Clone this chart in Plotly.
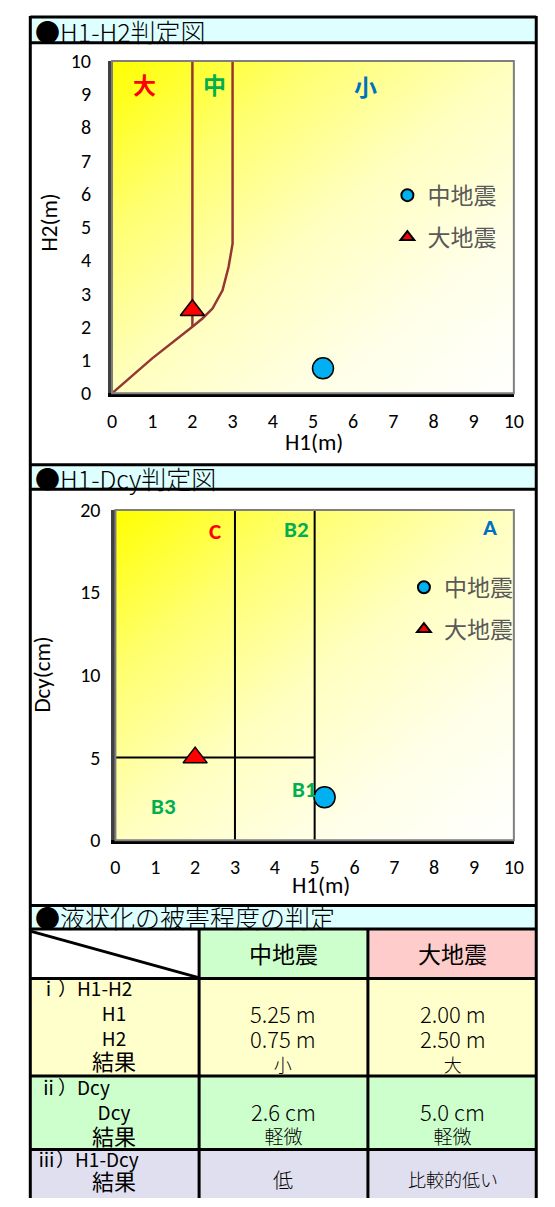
import plotly.graph_objects as go

# --- data ---
quake_names = ["中地震", "大地震"]
h1_vals = [5.25, 2.00]
h2_vals = [0.75, 2.50]
dcy_vals = [2.6, 5.0]
h1h2_results = ["小", "大"]
dcy_results = ["軽微", "軽微"]
h1dcy_results = ["低", "比較的低い"]

# H1-H2 boundary lines
bound_a_x = [2, 2]
bound_a_y = [10, 2]
bound_b_x = [0, 1, 2, 2.25, 2.5, 2.75, 2.9, 3, 3]
bound_b_y = [0, 1.05, 2, 2.25, 2.55, 3.1, 3.8, 4.5, 10]

# H1-Dcy boundary lines
grid_x = [3, 3, None, 5, 5, None, 0, 5]
grid_y = [0, 20, None, 0, 20, None, 5, 5]

W, H = 555, 1207
CJK = "Noto Sans CJK JP"
NUM = "Carlito, Lato, sans-serif"


def fx(px):
    return px / W


def fy(py):
    return 1 - py / H


fig = go.Figure()

# gradient backgrounds (yellow top-left -> white bottom-right)
grad = [[0, "#FFFF00"], [0.25, "#FFFF70"], [0.5, "#FFFFC0"], [0.75, "#FFFFE8"], [1, "#FFFFFF"]]
for xa, ya, ymax in [("x", "y", 10), ("x2", "y2", 20)]:
    fig.add_trace(go.Heatmap(
        x=[0, 10], y=[0, ymax], z=[[0.5, 1.0], [0.0, 0.5]],
        zmin=0, zmax=1, colorscale=grad, zsmooth="best",
        showscale=False, hoverinfo="skip", xaxis=xa, yaxis=ya))

# chart 1 lines
for bx, by in [(bound_a_x, bound_a_y), (bound_b_x, bound_b_y)]:
    fig.add_trace(go.Scatter(x=bx, y=by, mode="lines", line=dict(color="#953735", width=2.5),
                             showlegend=False, hoverinfo="skip", xaxis="x", yaxis="y"))

# chart 2 lines
fig.add_trace(go.Scatter(x=grid_x, y=grid_y, mode="lines", line=dict(color="black", width=2),
                         showlegend=False, hoverinfo="skip", xaxis="x2", yaxis="y2"))

symbols = ["circle", "triangle-up"]
colors = ["#00B0F0", "#FF0000"]
for i in range(2):
    fig.add_trace(go.Scatter(
        x=[h1_vals[i]], y=[h2_vals[i]], mode="markers", name=quake_names[i],
        marker=dict(symbol=symbols[i], size=21, color=colors[i], line=dict(color="black", width=1.5)),
        legend="legend", legendgroup="a%d" % i, xaxis="x", yaxis="y"))
    fig.add_trace(go.Scatter(
        x=[h1_vals[i]], y=[dcy_vals[i]], mode="markers", name=quake_names[i],
        marker=dict(symbol=symbols[i], size=21, color=colors[i], line=dict(color="black", width=1.5)),
        legend="legend2", legendgroup="b%d" % i, xaxis="x2", yaxis="y2"))

axis_common = dict(showgrid=False, zeroline=False, ticks="", showline=True,
                   tickfont=dict(family=NUM, size=20, color="black"), fixedrange=True)

fig.update_layout(
    width=W, height=H, margin=dict(l=0, r=0, t=0, b=0),
    paper_bgcolor="white", plot_bgcolor="white",
    xaxis=dict(domain=[fx(110), fx(523)], range=[0, 10], dtick=1, anchor="y",
               linecolor="black", linewidth=4, ticklabelstandoff=7, **axis_common),
    yaxis=dict(domain=[fy(389), fy(50)], range=[0, 10], dtick=1, anchor="x",
               linecolor="#404040", linewidth=4, ticklabelstandoff=13, **axis_common),
    xaxis2=dict(domain=[fx(113.5), fx(523)], range=[0, 10], dtick=1, anchor="y2",
                linecolor="black", linewidth=4, ticklabelstandoff=6, **axis_common),
    yaxis2=dict(domain=[fy(845), fy(508)], range=[0, 20], dtick=5, anchor="x2",
                linecolor="#404040", linewidth=4, ticklabelstandoff=7, **axis_common),
    legend=dict(x=fx(393), y=fy(165), xanchor="left", yanchor="top", bgcolor="rgba(0,0,0,0)",
                font=dict(family=CJK, size=23, color="#595959"), tracegroupgap=9,
                itemsizing="constant"),
    legend2=dict(x=fx(410), y=fy(565), xanchor="left", yanchor="top", bgcolor="rgba(0,0,0,0)",
                 font=dict(family=CJK, size=23, color="#595959"), tracegroupgap=9,
                 itemsizing="constant"),
)

shapes = []


def rect(x0, y0, x1, y1, fill, layer="below"):
    shapes.append(dict(type="rect", xref="paper", yref="paper", x0=fx(x0), x1=fx(x1),
                       y0=fy(y0), y1=fy(y1), fillcolor=fill, line=dict(width=0), layer=layer))


def line(x0, y0, x1, y1, w=3, color="black"):
    shapes.append(dict(type="line", xref="paper", yref="paper", x0=fx(x0), x1=fx(x1),
                       y0=fy(y0), y1=fy(y1), line=dict(color=color, width=w), layer="above"))


# header bands
rect(26, 6, 546, 31, "#DDFFFF")
rect(26, 463, 546, 487, "#DDFFFF")
rect(26, 912, 546, 935, "#DDFFFF")
# table fills
rect(199, 935, 373, 986, "#CCFFCC")
rect(373, 935, 546, 986, "#FFCCCC")
rect(26, 986, 546, 1086, "#FFFFCC")
rect(26, 1086, 546, 1161, "#CCFFCC")
rect(26, 1161, 546, 1210, "#E0DFEF")

# plot borders (top/right)
for xr, yr in [("x domain", "y domain"), ("x2 domain", "y2 domain")]:
    shapes.append(dict(type="rect", xref=xr, yref=yr, x0=0, x1=1, y0=0, y1=1,
                       line=dict(color="#7F7F7F", width=2), layer="above"))

# outer frame and table grid
line(26, 5, 546, 5)
line(26, 4, 26, 1210)
line(546, 4, 546, 1210)
for yy in [31.5, 462, 487, 911.5, 935.5, 986, 1085.5, 1160.5]:
    line(26, yy, 546, yy)
line(199.5, 935.5, 199.5, 1210)
line(373, 935.5, 373, 1210)
line(27, 938, 198, 985)

fig.update_layout(shapes=shapes)

ann = []


def text(px, py, s, size=20, anchor="center", color="black", family=CJK, angle=0, weight=300):
    ann.append(dict(x=fx(px), y=fy(py), xref="paper", yref="paper", text=s, showarrow=False,
                    xanchor=anchor, yanchor="middle", align="center", borderpad=0, textangle=angle,
                    font=dict(family=family, size=size, color=color, weight=weight)))


def zone(x, y, s, color, xa, ya, family):
    ann.append(dict(x=x, y=y, xref=xa, yref=ya, text="<b>%s</b>" % s, showarrow=False,
                    font=dict(family=family, size=23, color=color)))


def sz(s, size):
    return '<span style="font-size:%dpx">%s</span>' % (size, s)


# headers
text(30, 19, "●H1-H2判定図", size=25, anchor="left")
text(30, 475, "●H1-Dcy判定図", size=25, anchor="left")
text(30, 923, "●液状化の被害程度の判定", size=25, anchor="left")

# axis titles
text(318, 439, "H1(m)", size=23, family=NUM, weight=400)
text(45, 215, "H2(m)", size=23, family=NUM, angle=-90, weight=400)
text(325, 891, "H1(m)", size=23, family=NUM, weight=400)
text(38, 676, "Dcy(cm)", size=23, family=NUM, angle=-90, weight=400)

# zone labels
zone(0.8, 9.3, "大", "#FF0000", "x", "y", CJK)
zone(2.55, 9.3, "中", "#00B050", "x", "y", CJK)
zone(6.3, 9.25, "小", "#0070C0", "x", "y", CJK)
zone(2.5, 18.75, "C", "#FF0000", "x2", "y2", NUM)
zone(4.55, 18.85, "B2", "#00B050", "x2", "y2", NUM)
zone(9.4, 18.95, "A", "#0070C0", "x2", "y2", NUM)
zone(4.75, 3.1, "B1", "#00B050", "x2", "y2", NUM)
zone(1.2, 2.05, "B3", "#00B050", "x2", "y2", NUM)

# table
cx = [286, 460]
for i in range(2):
    text(cx[i], 960, quake_names[i], size=23, weight=400)
    text(cx[i], 1046, "%s<br>%s<br>%s" % (sz("%.2f m" % h1_vals[i], 22), sz("%.2f m" % h2_vals[i], 22),
                                          sz(h1h2_results[i], 18)), size=19)
    text(cx[i], 1133, "%s<br>%s" % (sz("%.1f cm" % dcy_vals[i], 22), sz(dcy_results[i], 19)), size=18)
    text(cx[i], 1191, h1dcy_results[i], size=20 if len(h1dcy_results[i]) < 3 else 18)

text(34, 995, "ⅰ）H1-H2", size=19, anchor="left", weight=400)
text(112, 1046, "H1<br>H2<br>%s" % sz("結果", 22), size=19, weight=400)
text(34, 1096, "ⅱ）Dcy", size=19, anchor="left", weight=400)
text(112, 1135, "Dcy<br>%s" % sz("結果", 22), size=19, weight=400)
text(32, 1170, "ⅲ）H1-Dcy", size=19, anchor="left", weight=400)
text(112, 1192, "結果", size=22, weight=400)

fig.update_layout(annotations=ann)

fig.write_html("out.html", config={"displayModeBar": False},
               post_script="document.body.style.margin='0';document.body.style.overflow='hidden';")
